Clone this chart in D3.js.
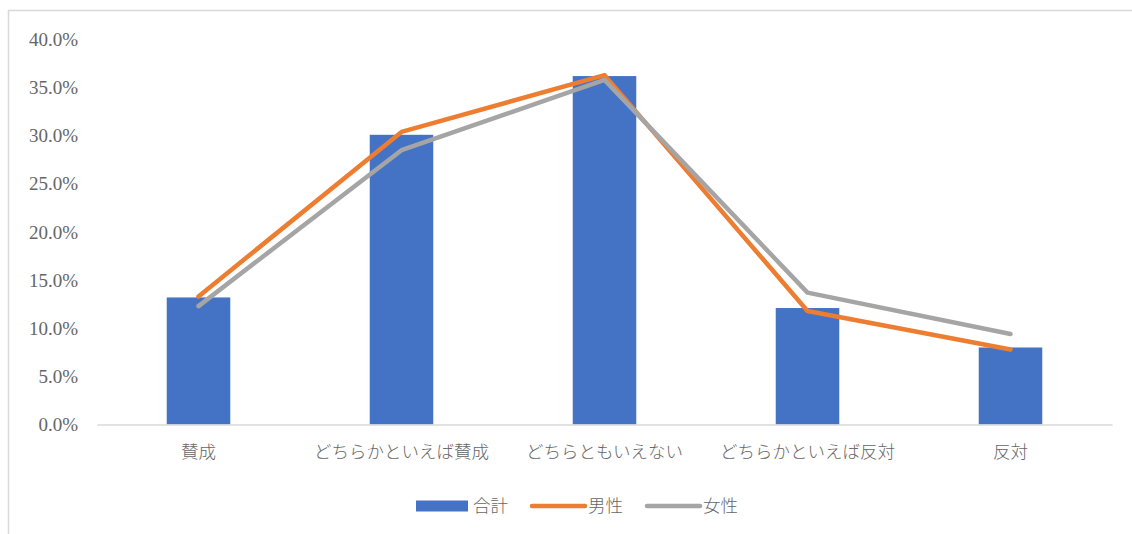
<!DOCTYPE html>
<html>
<head>
<meta charset="utf-8">
<script src="https://cdn.jsdelivr.net/npm/d3@7"></script>
<style>
  body { margin: 0; background: #fff; }
  svg { display: block; }
</style>
</head>
<body>
<svg id="chart"></svg>
<script>
// categories and series
var categories = ["賛成", "どちらかといえば賛成", "どちらともいえない", "どちらかといえば反対", "反対"];
var total = [0.132, 0.301, 0.362, 0.121, 0.080];   // 合計 (bars)
var male = [0.133, 0.304, 0.363, 0.118, 0.078];    // 男性
var female = [0.123, 0.285, 0.358, 0.137, 0.094];  // 女性
var yTicks = [0, 0.05, 0.10, 0.15, 0.20, 0.25, 0.30, 0.35, 0.40];

var W = 1132, H = 534;
var svg = d3.select("#chart").attr("width", W).attr("height", H);

var fontNum = "Liberation Serif, DejaVu Serif, serif";
var fontJa = "Noto Sans CJK JP, sans-serif";
var textColor = "#666666";

// chart frame (only left and top edges visible)
svg.append("path")
  .attr("d", "M8.5," + H + "V10.5H" + W)
  .attr("fill", "none")
  .attr("stroke", "#d9d9d9")
  .attr("stroke-width", 1.5);

// scales
var x = d3.scaleBand()
  .domain(categories)
  .range([97, 1112])
  .paddingInner(0.687)
  .paddingOuter(0.3435);

var y = d3.scaleLinear()
  .domain([0, 0.40])
  .range([424.5, 39.5]);

var cx = function (c) { return x(c) + x.bandwidth() / 2; };

// y axis
var yAxis = svg.append("g")
  .attr("transform", "translate(97,0)")
  .call(d3.axisLeft(y).tickValues(yTicks).tickFormat(d3.format(".1%")).tickSize(0).tickPadding(19));
yAxis.attr("font-family", fontNum).attr("font-size", 19);
yAxis.select(".domain").remove();
yAxis.selectAll("text")
  .attr("fill", textColor);

// bars
svg.selectAll(".bar")
  .data(total)
  .enter()
  .append("rect")
  .attr("class", "bar")
  .attr("x", function (d, i) { return x(categories[i]); })
  .attr("width", x.bandwidth())
  .attr("y", function (d) { return y(d); })
  .attr("height", function (d) { return y(0) - y(d); })
  .attr("fill", "#4472C4");

// x axis
var xAxis = svg.append("g")
  .attr("transform", "translate(0," + y(0) + ")")
  .call(d3.axisBottom(x).tickSize(0).tickPadding(21));
xAxis.attr("font-family", fontJa).attr("font-size", 17.5);
xAxis.select(".domain")
  .attr("stroke", "#d9d9d9")
  .attr("stroke-width", 1.5);
xAxis.selectAll("text")
  .attr("fill", textColor)
  .attr("font-weight", 300);

// lines
var line = d3.line()
  .x(function (d, i) { return cx(categories[i]); })
  .y(function (d) { return y(d); });

var series = [
  { name: "男性", values: male, color: "#ED7D31" },
  { name: "女性", values: female, color: "#A5A5A5" }
];

series.forEach(function (s) {
  svg.append("path")
    .datum(s.values)
    .attr("d", line)
    .attr("fill", "none")
    .attr("stroke", s.color)
    .attr("stroke-width", 4.5)
    .attr("stroke-linecap", "round")
    .attr("stroke-linejoin", "round");
});

// legend
var legendItems = [
  { name: "合計", type: "bar", color: "#4472C4" },
  { name: "男性", type: "line", color: "#ED7D31" },
  { name: "女性", type: "line", color: "#A5A5A5" }
];
var legend = svg.append("g").attr("class", "legend");
var lx = 416, ly = 506;
legendItems.forEach(function (item) {
  if (item.type === "bar") {
    legend.append("rect")
      .attr("x", lx).attr("y", ly - 5.5)
      .attr("width", 52).attr("height", 11)
      .attr("fill", item.color);
    lx += 57;
  } else {
    legend.append("line")
      .attr("x1", lx + 2).attr("x2", lx + 55)
      .attr("y1", ly).attr("y2", ly)
      .attr("stroke", item.color)
      .attr("stroke-width", 4.5)
      .attr("stroke-linecap", "round");
    lx += 58;
  }
  var t = legend.append("text")
    .attr("x", lx).attr("y", ly + 6)
    .attr("fill", textColor)
    .attr("font-family", fontJa)
    .attr("font-size", 17.5)
    .attr("font-weight", 300)
    .text(item.name);
  lx += t.node().getComputedTextLength() + 22;
});
</script>
</body>
</html>
